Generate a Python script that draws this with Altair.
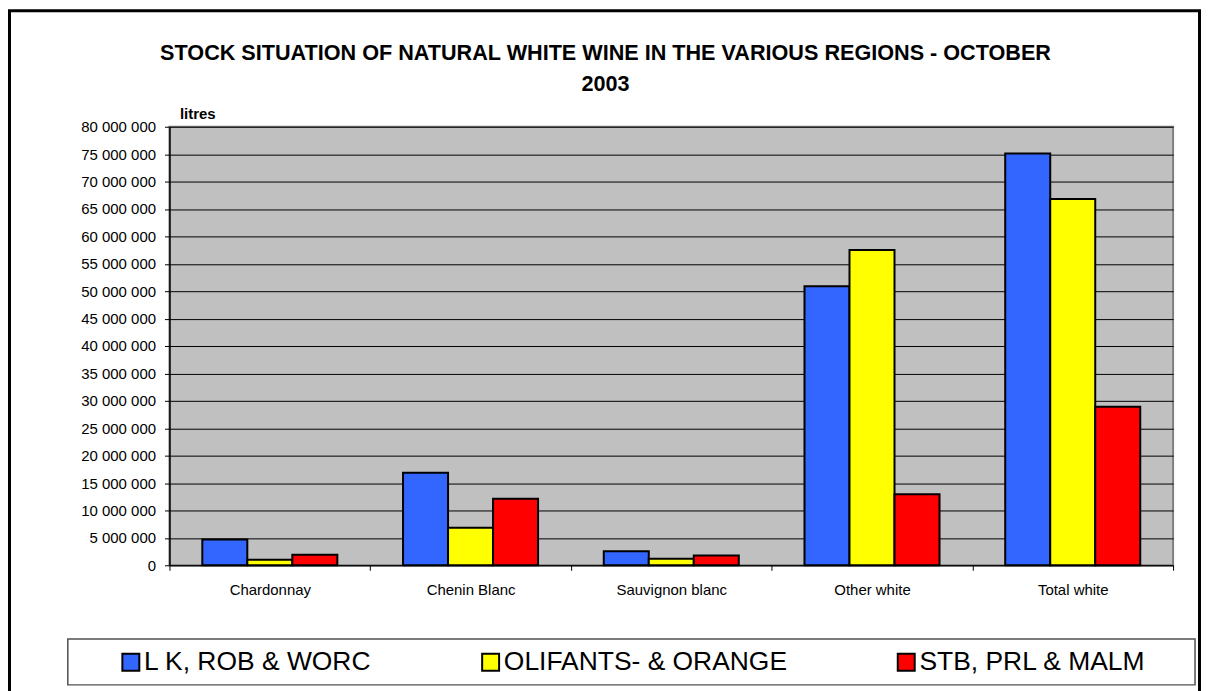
import altair as alt
import pandas as pd

categories = ["Chardonnay", "Chenin Blanc", "Sauvignon blanc", "Other white", "Total white"]
series = ["L K, ROB & WORC", "OLIFANTS- & ORANGE", "STB, PRL & MALM"]
lk_rob_worc = [4_700_000, 16_900_000, 2_550_000, 50_900_000, 75_100_000]
olifants_orange = [1_000_000, 6_850_000, 1_200_000, 57_500_000, 66_800_000]
stb_prl_malm = [1_900_000, 12_150_000, 1_780_000, 12_950_000, 28_900_000]
colors = ["#3366FF", "#FFFF00", "#FF0000"]
y_ticks = list(range(0, 80_000_001, 5_000_000))
title_lines = ["STOCK SITUATION OF NATURAL WHITE WINE IN THE VARIOUS REGIONS - OCTOBER", "2003"]

rows = []
for s, vals in zip(series, [lk_rob_worc, olifants_orange, stb_prl_malm]):
    for c, v in zip(categories, vals):
        rows.append({"category": c, "region": s, "litres": v})
df = pd.DataFrame(rows)

FONT = "Liberation Sans"

bars = alt.Chart(df).mark_bar(stroke="black", strokeWidth=2).encode(
    x=alt.X(
        "category:N", sort=categories,
        scale=alt.Scale(paddingInner=0, paddingOuter=0),
        axis=alt.Axis(title=None, labelAngle=0, tickBand="extent", labelFontSize=15,
                      labelPadding=12, tickSize=5, domainColor="black", tickColor="black",
                      labelColor="black", labelFont=FONT, grid=False, domainWidth=1),
    ),
    xOffset=alt.XOffset("region:N", sort=series,
                        scale=alt.Scale(paddingInner=0, paddingOuter=0.73)),
    y=alt.Y(
        "litres:Q",
        scale=alt.Scale(domain=[0, 80_000_000], nice=False),
        axis=alt.Axis(values=y_ticks, title="litres", titleAngle=0, titleX=10, titleY=-8,
                      titleAlign="left", titleBaseline="alphabetic", titleFontSize=15,
                      titleFontWeight="bold", titleFont=FONT, titleColor="black",
                      labelExpr="replace(format(datum.value, ','), regexp(',', 'g'), ' ')",
                      labelFontSize=15, labelFont=FONT, labelColor="black", labelPadding=9,
                      tickSize=5, tickColor="black", domainColor="black", domainWidth=1.5,
                      grid=True, gridColor="black", gridWidth=1, gridOpacity=1),
    ),
    color=alt.Color(
        "region:N", sort=series,
        scale=alt.Scale(domain=series, range=colors),
        legend=alt.Legend(title=None, orient="none", legendX=-52, legendY=524,
                          direction="horizontal", columns=3, columnPadding=106,
                          symbolType="square", symbolSize=289, symbolStrokeColor="black",
                          symbolStrokeWidth=2, symbolOpacity=1, labelFontSize=26.5,
                          labelFont=FONT, labelColor="black", labelOffset=0,
                          labelLimit=500, padding=0),
    ),
)

deco = pd.DataFrame({"k": [0]})
frame = alt.Chart(deco).mark_rect(fillOpacity=0, stroke="black", strokeWidth=3).encode(
    x=alt.value(-160.5), x2=alt.value(1033.5), y=alt.value(-116.5), y2=alt.value(620)
)
legend_box = alt.Chart(deco).mark_rect(fillOpacity=0, stroke="#505050", strokeWidth=1.5).encode(
    x=alt.value(-102), x2=alt.value(1029), y=alt.value(514), y2=alt.value(560)
)

chart = alt.layer(frame, legend_box, bars).properties(
    width=1007,
    height=440,
    padding={"left": 162, "top": 118, "right": 28, "bottom": 125},
    autosize=alt.AutoSizeParams(type="none"),
    title=alt.Title(title_lines, fontSize=21.7, font=FONT, fontWeight="bold", color="black",
                    anchor="middle", dx=-66, lineHeight=31, offset=-87),
).configure(
    background="white"
).configure_view(
    stroke="#808080", strokeWidth=2, fill="#C0C0C0"
)

chart.save("out.html", embed_options={"renderer": "svg", "actions": False})
